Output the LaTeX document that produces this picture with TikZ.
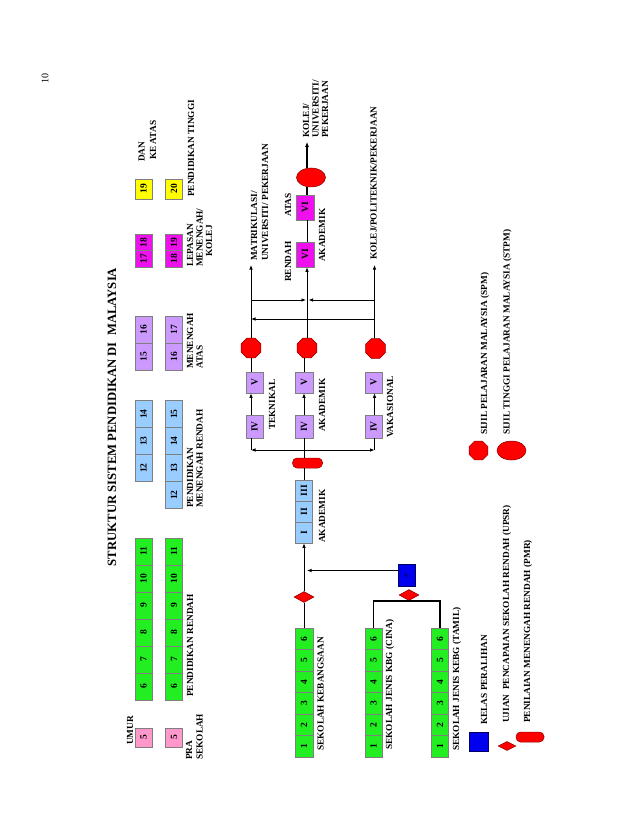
\documentclass[tikz,border=0pt]{standalone}
\usepackage{fontspec}
\setmainfont{Liberation Serif}
\usepackage{graphicx}
\usetikzlibrary{shapes.geometric,arrows.meta}
\definecolor{cpink}{HTML}{FF99CC}
\definecolor{cgreen}{HTML}{22EE22}
\definecolor{clblue}{HTML}{99CCFF}
\definecolor{cpurp}{HTML}{CC99FF}
\definecolor{cmag}{HTML}{EE11EE}
\definecolor{cyel}{HTML}{FFFF00}
\definecolor{cred}{HTML}{FF0000}
\definecolor{cdred}{HTML}{880000}
\definecolor{cblu}{HTML}{0000EE}
\definecolor{cdblu}{HTML}{000066}
\definecolor{cedge}{HTML}{7F7F7F}
\newcommand\lblf{\fontsize{9.3}{9.3}\selectfont\bfseries}
\newcommand\rt[1]{\rotatebox{90}{#1}}
\begin{document}
\begin{tikzpicture}[x=1pt,y=-1pt,
  cell/.style={draw=cedge, line width=0.5pt, inner sep=0pt, minimum width=17pt, font=\fontsize{9.5}{9.5}\selectfont\bfseries},
  lbl/.style={rotate=90, anchor=west, inner sep=0pt, font=\lblf},
  conn/.style={line width=0.8pt, black},
  thk/.style={line width=1.6pt, black},
  arr/.style={conn, -{Latex[length=4.5pt,width=3.6pt]}},
  octa/.style={regular polygon, regular polygon sides=8, minimum size=21.5pt, inner sep=0pt, fill=cred, draw=cdred, line width=0.5pt},
  dia/.style={diamond, inner sep=0pt, fill=cred, draw=cdred, line width=0.5pt},
  ell/.style={ellipse, inner sep=0pt, minimum width=29pt, minimum height=19pt, fill=cred, draw=cdred, line width=0.5pt},
  pmrbox/.style={rectangle, rounded corners=4.5pt, inner sep=0pt, minimum width=30pt, minimum height=10pt, fill=cred, draw=cdred, line width=0.5pt},
  pbx/.style={rectangle, inner sep=0pt, fill=cblu, draw=cdblu, line width=0.6pt}
]
\useasboundingbox (0,0) rectangle (638,826);
\fill[white] (0,0) rectangle (638,826);

% page number and title
\node[rotate=90, inner sep=0pt, font=\fontsize{10}{10}\selectfont] (pgno) at (45,79) {10};
\node[rotate=90, inner sep=0pt, font=\fontsize{12.7}{14}\selectfont\bfseries] (title) at (112,417) {STRUKTUR SISTEM PENDIDIKAN DI\ \ MALAYSIA};

% ===== age rows =====
\node[lbl] (umur) at (130,745) {UMUR};
% row 1
\node[cell, fill=cpink, minimum height=19pt] (pa5) at (143.5,737.5) {\rt{5}};
\foreach \v [count=\i from 0] in {6,7,8,9,10,11}
  \node[cell, fill=cgreen, minimum height=27pt] (ga\v) at (143.5,{686.5-27*\i}) {\rt{\v}};
\foreach \v [count=\i from 0] in {12,13,14}
  \node[cell, fill=clblue, minimum height=27pt] (ba\v) at (143.5,{468-27*\i}) {\rt{\v}};
\foreach \v [count=\i from 0] in {15,16}
  \node[cell, fill=cpurp, minimum height=27pt] (ua\v) at (143.5,{356.5-27*\i}) {\rt{\v}};
\foreach \v [count=\i from 0] in {17,18}
  \node[cell, fill=cmag, minimum height=16.5pt] (ma\v) at (143.5,{258.75-16.5*\i}) {\rt{\v}};
\node[cell, fill=cyel, minimum height=20pt] (ya19) at (143.5,189) {\rt{19}};
% row 2
\node[cell, fill=cpink, minimum height=19pt] (pb5) at (174,737.5) {\rt{5}};
\foreach \v [count=\i from 0] in {6,7,8,9,10,11}
  \node[cell, fill=cgreen, minimum height=27pt] (gb\v) at (174,{686.5-27*\i}) {\rt{\v}};
\foreach \v [count=\i from 0] in {12,13,14,15}
  \node[cell, fill=clblue, minimum height=27pt] (bb\v) at (174,{495-27*\i}) {\rt{\v}};
\foreach \v [count=\i from 0] in {16,17}
  \node[cell, fill=cpurp, minimum height=27pt] (ub\v) at (174,{356.5-27*\i}) {\rt{\v}};
\foreach \v [count=\i from 0] in {18,19}
  \node[cell, fill=cmag, minimum height=16.5pt] (mb\v) at (174,{258.75-16.5*\i}) {\rt{\v}};
\node[cell, fill=cyel, minimum height=20pt] (yb20) at (174,189) {\rt{20}};

\node[lbl] (dan) at (141.5,162) {DAN};
\node[lbl] (keatas) at (153,160) {KE ATAS};

% level labels
\node[lbl] (pra1) at (189,760) {PRA};
\node[lbl] (pra2) at (199.5,760) {SEKOLAH};
\node[lbl] (prend) at (190,697) {PENDIDIKAN RENDAH};
\node[lbl] (pmen1) at (190,508) {PENDIDIKAN};
\node[lbl] (pmen2) at (199.5,508) {MENENGAH RENDAH};
\node[lbl] (mat1) at (190,369) {MENENGAH};
\node[lbl] (mat2) at (199.5,369) {ATAS};
\node[lbl] (lep1) at (190,267) {LEPASAN};
\node[lbl] (lep2) at (199.5,267) {MENENGAH/};
\node[lbl] (lep3) at (209,257) {KOLEJ};
\node[lbl] (ptinggi) at (191,197) {PENDIDIKAN TINGGI};

% ===== schools =====
\foreach \v [count=\i from 0] in {1,...,6}
  \node[cell, fill=cgreen, minimum width=18pt, minimum height=21.5pt] (sk\v) at (304,{746.25-21.5*\i}) {\rt{\v}};
\foreach \v [count=\i from 0] in {1,...,6}
  \node[cell, fill=cgreen, minimum height=21.5pt] (sjc\v) at (373.5,{746.25-21.5*\i}) {\rt{\v}};
\foreach \v [count=\i from 0] in {1,...,6}
  \node[cell, fill=cgreen, minimum height=21.5pt] (sjt\v) at (440,{746.25-21.5*\i}) {\rt{\v}};
\node[lbl] (lsk) at (320.5,751) {SEKOLAH KEBANGSAAN};
\node[lbl] (lsjc) at (390,750) {SEKOLAH JENIS KBG (CINA)};
\node[lbl] (lsjt) at (457,751) {SEKOLAH JENIS KEBG (TAMIL)};

% UPSR diamonds, P box
\node[dia, minimum width=20pt, minimum height=11pt] (dSK) at (304,597) {};
\node[dia, minimum width=20pt, minimum height=11pt] (dK) at (409,595) {};
\node[pbx, minimum width=17pt, minimum height=22pt, font=\fontsize{6}{6}\selectfont\bfseries, text=cdblu] (pbox) at (406.5,575.5) {\rt{P}};
\draw[thk] (sjc6.north) |- (dK.south) -| (sjt6.north);

% lower secondary
\foreach \v/\t [count=\i from 0] in {1/I,2/II,3/III}
  \node[cell, fill=clblue, minimum height=21pt] (ak\v) at (304,{532.5-21*\i}) {\rt{\t}};
\node[lbl] (lak1) at (322,543) {AKADEMIK};
\node[pmrbox] (pmr) at (307.5,463) {};

\draw[conn] (sk6.north) -- (dSK.south);
\draw[arr] (dSK.north) -- (ak1.south);
\coordinate (pj) at (307,570.5);
\draw[arr] (pbox.west |- pj) -- (pj);
\draw[conn] (ak3.north) -- (ak3.north |- pmr.south);
\coordinate (hL) at (251,450);
\coordinate (hM) at (304,450);
\coordinate (hR) at (374.5,450);
\draw[conn] (pmr.north -| hM) -- (hM);
\draw[conn, {Latex[length=4.5pt,width=3.6pt]}-{Latex[length=4.5pt,width=3.6pt]}] (hL) -- (hR);

% upper secondary streams
\node[cell, fill=cpurp, minimum height=23pt] (IVL) at (254.5,426.5) {\rt{IV}};
\node[cell, fill=cpurp, minimum height=21pt] (VL) at (254.5,382.5) {\rt{V}};
\node[cell, fill=cpurp, minimum width=18pt, minimum height=23pt] (IVM) at (304,426.5) {\rt{IV}};
\node[cell, fill=cpurp, minimum width=18pt, minimum height=21pt] (VM) at (304,382.5) {\rt{V}};
\node[cell, fill=cpurp, minimum height=23pt] (IVR) at (373.5,426.5) {\rt{IV}};
\node[cell, fill=cpurp, minimum height=21pt] (VR) at (373.5,382.5) {\rt{V}};
\node[lbl] (ltek) at (272,430) {TEKNIKAL};
\node[lbl] (lak2) at (322,432) {AKADEMIK};
\node[lbl] (lvak) at (390,438) {VAKASIONAL};
\node[octa] (oL) at (251,348) {};
\node[octa] (oM) at (307,348) {};
\node[octa] (oR) at (375.5,348.5) {};

\draw[conn] (IVL.south -| hL) -- (hL);
\draw[arr] (IVL.north -| hL) -- (VL.south -| hL);
\draw[conn] (VL.north -| hL) -- (oL.south);
\draw[conn] (hM) -- (IVM.south);
\draw[arr] (IVM.north) -- (VM.south);
\draw[conn] (VM.north) -- (VM.north |- oM.south);
\draw[conn] (IVR.south -| hR) -- (hR);
\draw[arr] (IVR.north -| hR) -- (VR.south -| hR);
\draw[conn] (VR.north -| hR) -- (VR.north -| hR |- oR.south);

% form six
\node[cell, fill=cmag, minimum width=18pt, minimum height=25pt] (VI1) at (305,254.5) {\rt{VI}};
\node[cell, fill=cmag, minimum width=18pt, minimum height=25pt] (VI2) at (305,207.5) {\rt{VI}};
\node[lbl] (lren) at (288,282) {RENDAH};
\node[lbl] (latas) at (288,217) {ATAS};
\node[lbl] (lak3) at (322,262) {AKADEMIK};
\node[ell] (ellM) at (311,177.5) {};

\coordinate (aL) at (251,265);
\coordinate (aM) at (307,142);
\coordinate (aR) at (374.5,265);
\draw[arr] (oL.north) -- (aL);
\draw[arr] (oR.north -| aR) -- (aR);
\draw[arr] (oM.north) -- (oM.north |- VI1.south);
\draw[conn] (VI1.north -| oM) -- (VI2.south -| oM);
\draw[thk] (VI2.north -| oM) -- (oM |- ellM.south);
\draw[thk, -{Latex[length=5pt,width=4.2pt]}] (oM |- ellM.north) -- (aM);

\coordinate (l300) at (251,300);
\coordinate (m300a) at (306,300);
\coordinate (m300b) at (308.5,300);
\coordinate (r300) at (374.5,300);
\coordinate (l319) at (251,319);
\coordinate (r319) at (374.5,319);
\draw[arr] (l300) -- (m300a);
\draw[arr] (r300) -- (m300b);
\draw[arr] (r319) -- (l319);

\node[lbl] (lmat1) at (254,261) {MATRIKULASI/};
\node[lbl] (lmat2) at (265,261) {UNIVERSITI/ PEKERJAAN};
\node[lbl] (lk1) at (306,138) {KOLEJ/};
\node[lbl] (lk2) at (315.5,138) {UNIVERSITI/};
\node[lbl] (lk3) at (325,138) {PEKERJAAN};
\node[lbl] (lpoli) at (373.5,260) {KOLEJ/POLITEKNIK/PEKERJAAN};

% ===== legend =====
\node[pbx, minimum width=19pt, minimum height=19pt] (lgP) at (478.5,741.5) {};
\node[lbl] (lgPt) at (484,725) {KELAS PERALIHAN};
\node[dia, minimum width=18pt, minimum height=9pt] (lgD) at (507,746) {};
\node[lbl] (lgDt) at (507,723) {UJIAN\ \ PENCAPAIAN SEKOLAH RENDAH (UPSR)};
\node[pmrbox, minimum width=28pt] (lgR) at (530,737) {};
\node[lbl] (lgRt) at (528,723) {PENILAIAN MENENGAH RENDAH (PMR)};
\node[octa, minimum size=20.5pt] (lgO) at (478.5,450.5) {};
\node[lbl] (lgOt) at (485,435) {SIJIL PELAJARAN MALAYSIA (SPM)};
\node[ell] (lgE) at (511.5,450.5) {};
\node[lbl] (lgEt) at (507.5,435) {SIJIL TINGGI PELAJARAN MALAYSIA (STPM)};
\end{tikzpicture}
\end{document}
